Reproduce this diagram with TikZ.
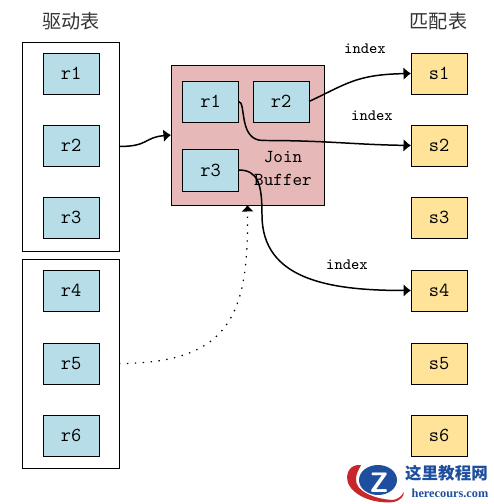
\documentclass[tikz,border=0pt]{standalone}
\usepackage{fontspec}
\usepackage{tikz}
\usetikzlibrary{arrows.meta,positioning}
\newfontfamily\cjkfont{Noto Sans CJK SC}
\newfontfamily\urlfont{Liberation Serif}
\definecolor{JoinBlue}{HTML}{B7DDE8}
\definecolor{JoinGold}{HTML}{FFE399}
\definecolor{JoinRose}{HTML}{E6B8B7}
\definecolor{LogoBlue}{HTML}{1F4E9E}
\definecolor{LogoRed}{HTML}{C8262B}
\tikzset{
  figlabel/.style={font=\ttfamily\fontsize{11.3}{13}\selectfont, text=black},
  figsmall/.style={font=\ttfamily\fontsize{9}{11}\selectfont, text=black},
  figtitle/.style={font=\cjkfont\fontsize{10.9}{12}\selectfont, text=black!80},
  rowbox/.style={draw=black, line width=0.45pt, fill=JoinBlue, minimum width=1.12cm, minimum height=.82cm, inner sep=0pt, outer sep=0pt},
  matchbox/.style={rowbox, fill=JoinGold},
  tablebox/.style={draw=black, line width=0.45pt, fill=white, minimum width=1.94cm, minimum height=4.18cm, inner sep=0pt, outer sep=0pt},
  bufferbox/.style={draw=black, line width=0.45pt, fill=JoinRose, minimum width=3.06cm, minimum height=2.8cm, inner sep=0pt, outer sep=0pt},
  figarrow/.style={-{Latex[length=1.5mm,width=2.6mm]}, line width=0.85pt, draw=black},
  figdotted/.style={-{Latex[length=1.3mm,width=2.5mm]}, line width=0.7pt, draw=black, dash pattern=on 0.8pt off 3.7pt}
}
\begin{document}
\begin{tikzpicture}[every node/.style={figlabel}]
\useasboundingbox (0,0) rectangle (9.88,10.08);
\node[figtitle] (drivetitle) at (1.42,9.66) {驱动表};
\node[figtitle] (matchtitle) at (8.77,9.66) {匹配表};
\node[tablebox] (drivetop) at (1.41,7.15) {};
\node[tablebox] (drivebottom) at (1.41,2.81) {};
\node[rowbox] (r1) at (1.42,8.61) {r1};
\node[rowbox] (r2) at (1.42,7.17) {r2};
\node[rowbox] (r3) at (1.42,5.73) {r3};
\node[rowbox] (r4) at (1.42,4.27) {r4};
\node[rowbox] (r5) at (1.42,2.81) {r5};
\node[rowbox] (r6) at (1.42,1.37) {r6};
\node[matchbox] (s1) at (8.78,8.61) {s1};
\node[matchbox] (s2) at (8.78,7.17) {s2};
\node[matchbox] (s3) at (8.78,5.73) {s3};
\node[matchbox] (s4) at (8.78,4.27) {s4};
\node[matchbox] (s5) at (8.78,2.81) {s5};
\node[matchbox] (s6) at (8.78,1.37) {s6};
\node[bufferbox] (buffer) at (4.95,7.38) {};
\node[rowbox] (bufr1) at (4.21,8.05) {r1};
\node[rowbox] (bufr2) at (5.62,8.05) {r2};
\node[rowbox, minimum height=.84cm] (bufr3) at (4.21,6.68) {r3};
\node[align=center, font=\ttfamily\fontsize{10.4}{13}\selectfont] (joinlabel) at (5.66,6.71) {Join\\Buffer};
\node[figsmall] (index1) at (7.30,9.10) {index};
\node[figsmall] (index2) at (7.44,7.76) {index};
\node[figsmall] (index3) at (6.94,4.78) {index};
\draw[figarrow] (drivetop.east) .. controls +(0.6,0) and +(-0.55,-0.05) .. (buffer.west);
\draw[figarrow] (bufr2.east) .. controls +(0.75,0.35) and +(-1.1,-0.02) .. (s1.west);
\draw[figarrow] (bufr1.east) .. controls +(0.16,0) and +(-0.5,0) .. (5.26,7.27) .. controls +(1.3,0) and +(-1.2,0.02) .. (s2.west);
\draw[figarrow] (bufr3.east) .. controls +(0.4,0) and +(0,0.6) .. (5.24,5.78) .. controls +(0,-1.3) and +(-1.62,0) .. (s4.west);
\draw[figdotted] (drivebottom.east) .. controls +(2.3,0) and +(0.02,-2.1) .. (buffer.south);
% watermark
\fill[LogoRed] (7.22,0.78) .. controls (7.0,0.8) and (6.9,0.62) .. (6.96,0.42) .. controls (7.1,0.1) and (7.6,0.0) .. (7.88,0.04) .. controls (8.0,0.07) and (8.08,0.15) .. (8.08,0.24) .. controls (8.02,0.14) and (7.95,0.09) .. (7.85,0.08) .. controls (7.5,0.1) and (7.1,0.25) .. (7.12,0.5) .. controls (7.12,0.62) and (7.18,0.68) .. (7.22,0.78) -- cycle;
\fill[LogoBlue] (7.56,0.48) ellipse (0.38 and 0.30);
\node[font=\sffamily\bfseries\fontsize{16}{16}\selectfont, text=white, inner sep=0pt] (logoz) at (7.58,0.42) {Z};
\node[font=\cjkfont\bfseries\fontsize{9.4}{11}\selectfont, text=LogoBlue, inner sep=0pt] (logotext) at (8.93,0.62) {这里教程网};
\node[font=\urlfont\bfseries\fontsize{7}{8}\selectfont, text=LogoBlue, inner sep=0pt] (logourl) at (9.0,0.22) {herecours.com};
\end{tikzpicture}
\end{document}
